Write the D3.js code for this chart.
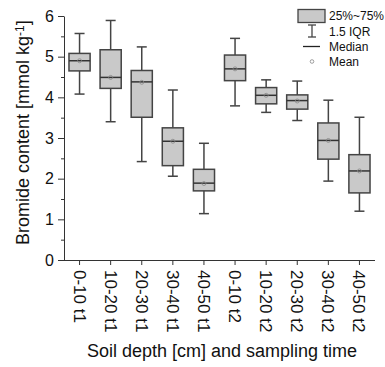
<!DOCTYPE html>
<html><head><meta charset="utf-8">
<script src="https://cdn.jsdelivr.net/npm/d3@7"></script>
<style>body{margin:0;background:#fff}svg{display:block}text{font-family:"Liberation Sans",Arial,sans-serif;fill:#111}</style>
</head><body><svg id="c" width="385" height="367"></svg>
<script>
const categories = ["0-10 t1","10-20 t1","20-30 t1","30-40 t1","40-50 t1","0-10 t2","10-20 t2","20-30 t2","30-40 t2","40-50 t2"];
const whiskerLow = [4.08,3.40,2.42,2.06,1.14,3.79,3.63,3.43,1.94,1.20];
const q1 =        [4.65,4.22,3.51,2.32,1.70,4.41,3.84,3.71,2.48,1.65];
const median =    [4.90,4.49,4.38,2.92,1.89,4.70,4.05,3.92,2.94,2.19];
const mean =      [4.90,4.49,4.37,2.92,1.88,4.70,4.05,3.91,2.94,2.19];
const q3 =        [5.08,5.17,4.66,3.25,2.23,5.04,4.24,4.06,3.37,2.59];
const whiskerHigh=[5.57,5.89,5.24,4.18,2.87,5.45,4.43,4.40,3.93,3.51];
const yTicks = [0,1,2,3,4,5,6];
const legendLabels = ["25%~75%","1.5 IQR","Median","Mean"];

const svg = d3.select("#c");
const m = {l:64, r:375, t:16, b:260};
const x = d3.scaleBand().domain(categories).range([m.l, m.r]).paddingInner(0.32).paddingOuter(0.16);
const y = d3.scaleLinear().domain([0,6]).range([m.b, m.t]);
const stroke = "#444";

// axes
const ya = svg.append("g").attr("transform",`translate(${m.l},0)`)
  .call(d3.axisLeft(y).tickValues(yTicks).tickFormat(d3.format("d")).tickSize(6).tickPadding(4).tickSizeOuter(0));
ya.select(".domain").attr("stroke","#333");
ya.selectAll(".tick line").attr("stroke","#333");
ya.selectAll("text").style("font-size","16px").attr("fill","#111");
svg.append("g").attr("transform",`translate(${m.l},0)`)
  .call(d3.axisLeft(y).tickValues(d3.range(0.5,6,1)).tickSize(3).tickFormat(""))
  .call(g=>{g.select(".domain").remove(); g.selectAll("line").attr("stroke","#333");});

const xa = svg.append("g").attr("transform",`translate(0,${m.b})`)
  .call(d3.axisBottom(x).tickSize(5).tickSizeOuter(0));
xa.select(".domain").attr("stroke","#333").attr("d",`M${m.l},0.5H${m.r}`);
xa.selectAll(".tick line").attr("stroke","#333");
xa.selectAll("text").style("font-size","17px").attr("fill","#111")
  .attr("transform","rotate(90)").attr("text-anchor","start")
  .attr("x",10).attr("y",0).attr("dy","0.35em");

// boxes
const bw = x.bandwidth();
const g = svg.append("g");
categories.forEach((c,i)=>{
  const cx = x(c)+bw/2;
  g.append("line").attr("x1",cx).attr("x2",cx).attr("y1",y(whiskerHigh[i])).attr("y2",y(q3[i])).attr("stroke",stroke).attr("stroke-width",1.5);
  g.append("line").attr("x1",cx).attr("x2",cx).attr("y1",y(q1[i])).attr("y2",y(whiskerLow[i])).attr("stroke",stroke).attr("stroke-width",1.5);
  [whiskerHigh[i],whiskerLow[i]].forEach(v=>g.append("line").attr("x1",cx-5).attr("x2",cx+5).attr("y1",y(v)).attr("y2",y(v)).attr("stroke",stroke).attr("stroke-width",1.5));
  g.append("rect").attr("x",x(c)).attr("width",bw).attr("y",y(q3[i])).attr("height",y(q1[i])-y(q3[i]))
    .attr("fill","#c9c9c9").attr("stroke",stroke).attr("stroke-width",1.5);
  g.append("line").attr("x1",x(c)).attr("x2",x(c)+bw).attr("y1",y(median[i])).attr("y2",y(median[i])).attr("stroke","#333").attr("stroke-width",1.5);
  g.append("circle").attr("cx",cx).attr("cy",y(mean[i])).attr("r",2).attr("fill","none").attr("stroke","#888").attr("stroke-width",0.8);
});

// titles
svg.append("text").attr("x",222).attr("y",357).attr("text-anchor","middle").style("font-size","18px").text("Soil depth [cm] and sampling time");
const yt = svg.append("text").attr("transform",`translate(29,245) rotate(-90)`).attr("text-anchor","start").style("font-size","18px");
yt.append("tspan").text("Bromide content [mmol kg");
yt.append("tspan").attr("dy","-0.45em").style("font-size","12px").text("-1");
yt.append("tspan").attr("dy","0.3em").text("]");

// legend
const lg = svg.append("g");
lg.append("rect").attr("x",298).attr("y",9.5).attr("width",27).attr("height",13).attr("fill","#c9c9c9").attr("stroke",stroke).attr("stroke-width",1.3);
lg.append("line").attr("x1",312).attr("x2",312).attr("y1",25).attr("y2",37).attr("stroke",stroke).attr("stroke-width",1.3);
lg.append("line").attr("x1",308).attr("x2",316).attr("y1",25).attr("y2",25).attr("stroke",stroke).attr("stroke-width",1.3);
lg.append("line").attr("x1",308).attr("x2",316).attr("y1",37).attr("y2",37).attr("stroke",stroke).attr("stroke-width",1.3);
lg.append("line").attr("x1",303).attr("x2",320).attr("y1",46.5).attr("y2",46.5).attr("stroke","#222").attr("stroke-width",1.3);
lg.append("circle").attr("cx",312).attr("cy",61.5).attr("r",1.8).attr("fill","none").attr("stroke","#888").attr("stroke-width",0.8);
const ly = [16,31.5,46.5,61.5];
legendLabels.forEach((t,i)=>lg.append("text").attr("x",329).attr("y",ly[i]).attr("dy","0.35em").style("font-size","12px").text(t));
</script></body></html>
